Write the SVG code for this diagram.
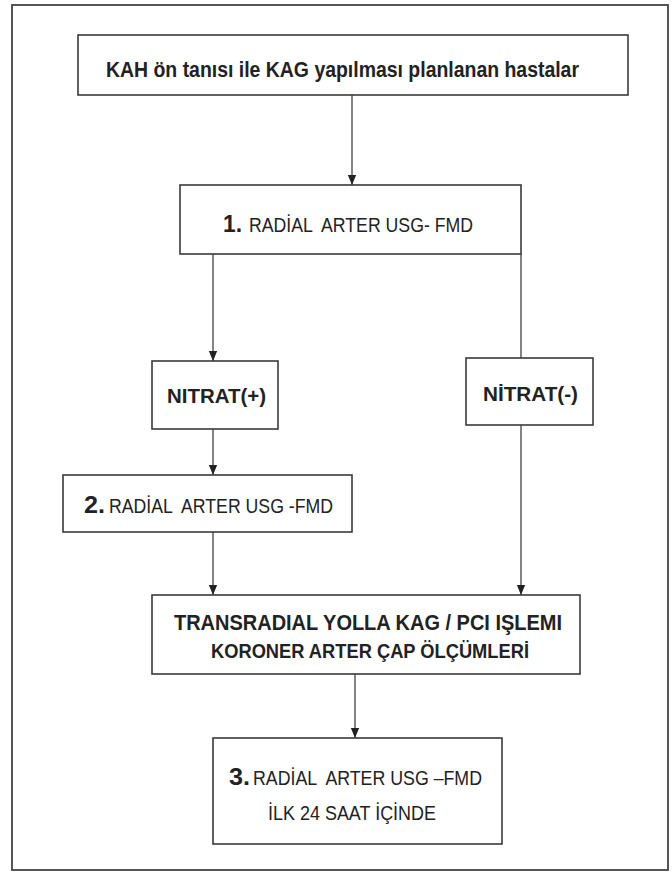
<svg xmlns="http://www.w3.org/2000/svg" width="672" height="873" viewBox="0 0 672 873">
<style>
.box{fill:#fff;stroke:#3a3a3a;stroke-width:1.6}
.frame{fill:#fff;stroke:#444;stroke-width:1.8}
.ln{fill:none;stroke:#333;stroke-width:1.2}
text{font-family:"Liberation Sans",Arial,sans-serif;fill:#222;white-space:pre}
.b{font-weight:bold}
.n{font-weight:normal}
</style>
<defs>
<marker id="ahd" markerUnits="userSpaceOnUse" markerWidth="10" markerHeight="12" viewBox="0 0 12 10" refX="12" refY="5" orient="auto">
<path d="M0,0 L12,5 L0,10 Z" fill="#222"/>
</marker>
</defs>
<rect class="frame" x="12" y="5" width="656" height="865"/>
<g id="connectors">
<line class="ln" x1="352" y1="95" x2="352" y2="185" marker-end="url(#ahd)"/>
<line class="ln" x1="213" y1="254" x2="213" y2="361" marker-end="url(#ahd)"/>
<line class="ln" x1="521" y1="254" x2="521" y2="358"/>
<line class="ln" x1="213" y1="429" x2="213" y2="475" marker-end="url(#ahd)"/>
<line class="ln" x1="213" y1="532" x2="213" y2="595" marker-end="url(#ahd)"/>
<line class="ln" x1="521" y1="425" x2="521" y2="595" marker-end="url(#ahd)"/>
<line class="ln" x1="355" y1="674" x2="355" y2="738" marker-end="url(#ahd)"/>
</g>
<g id="n1">
<rect class="box" x="78" y="35" width="550" height="60"/>
<text class="b" x="106" y="77" font-size="22" textLength="473" lengthAdjust="spacingAndGlyphs">KAH ön tanısı ile KAG yapılması planlanan hastalar</text>
</g>
<g id="n2">
<rect class="box" x="180" y="185" width="341" height="69"/>
<text class="b" x="223" y="232" font-size="24" textLength="19" lengthAdjust="spacingAndGlyphs">1.</text>
<text class="n" xml:space="preserve" x="249" y="232" font-size="21" textLength="224" lengthAdjust="spacingAndGlyphs">RADİAL  ARTER USG- FMD</text>
</g>
<g id="n3">
<rect class="box" x="152" y="361" width="126" height="68"/>
<text class="b" x="167" y="403" font-size="21" textLength="99" lengthAdjust="spacingAndGlyphs">NITRAT(+)</text>
</g>
<g id="n4">
<rect class="box" x="466" y="358" width="127" height="67"/>
<text class="b" x="483" y="401" font-size="21" textLength="95" lengthAdjust="spacingAndGlyphs">NİTRAT(-)</text>
</g>
<g id="n5">
<rect class="box" x="63" y="475" width="289" height="57"/>
<text class="b" x="84" y="513" font-size="24" textLength="21" lengthAdjust="spacingAndGlyphs">2.</text>
<text class="n" xml:space="preserve" x="109" y="513" font-size="21" textLength="224" lengthAdjust="spacingAndGlyphs">RADİAL  ARTER USG -FMD</text>
</g>
<g id="n6">
<rect class="box" x="152" y="595" width="428" height="79"/>
<text class="b" x="174" y="630" font-size="22" textLength="388" lengthAdjust="spacingAndGlyphs">TRANSRADIAL YOLLA KAG / PCI IŞLEMI</text>
<text class="b" x="211" y="658" font-size="20" textLength="318" lengthAdjust="spacingAndGlyphs">KORONER ARTER ÇAP ÖLÇÜMLERİ</text>
</g>
<g id="n7">
<rect class="box" x="213" y="738" width="289" height="106"/>
<text class="b" x="229" y="785" font-size="24" textLength="21" lengthAdjust="spacingAndGlyphs">3.</text>
<text class="n" xml:space="preserve" x="253" y="785" font-size="21" textLength="229" lengthAdjust="spacingAndGlyphs">RADİAL  ARTER USG –FMD</text>
<text class="n" x="268" y="820" font-size="20" textLength="168" lengthAdjust="spacingAndGlyphs">İLK 24 SAAT İÇİNDE</text>
</g>
</svg>
